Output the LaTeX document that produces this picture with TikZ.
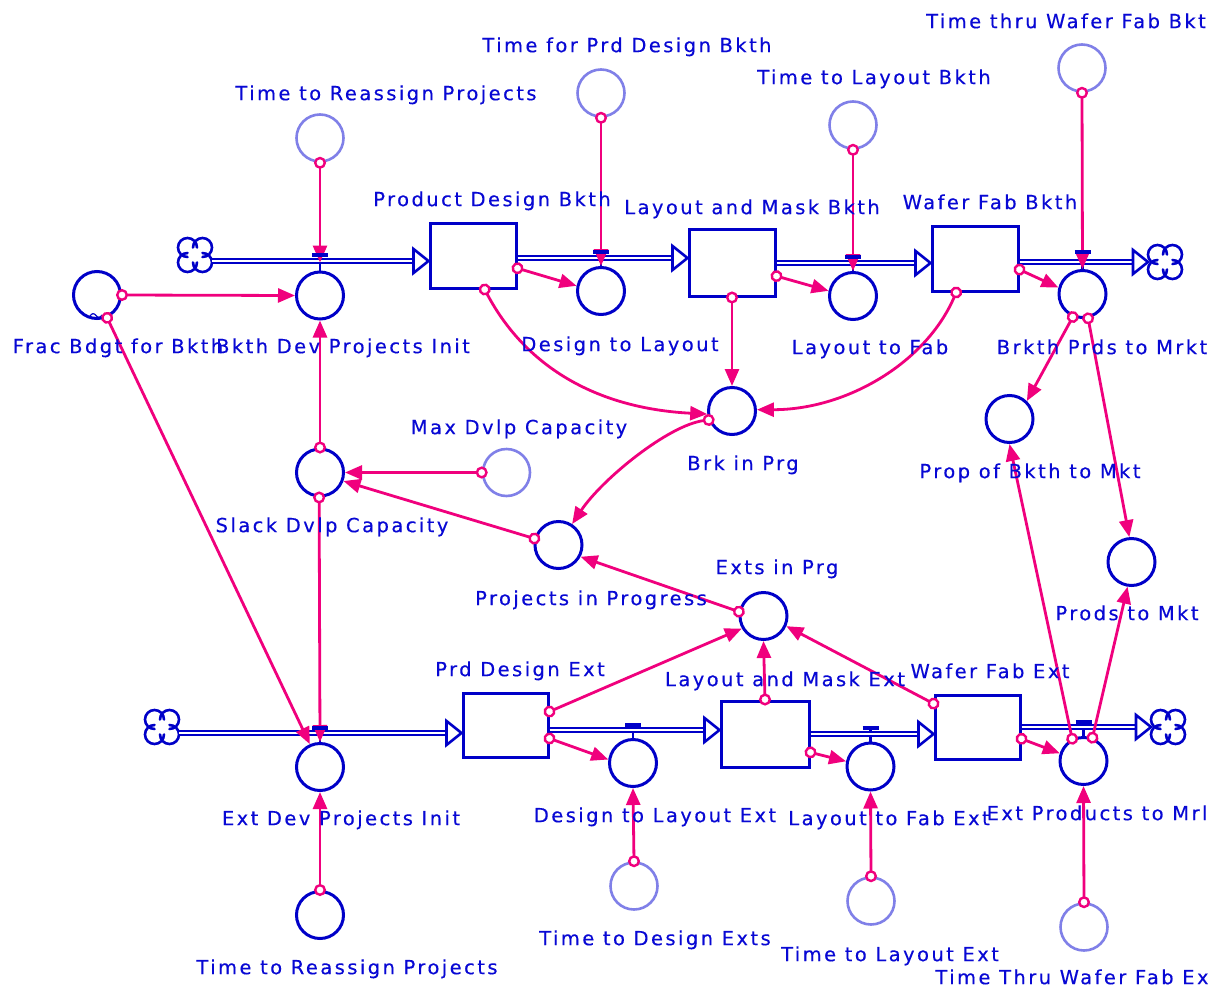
\documentclass[tikz,border=0pt]{standalone}
\usepackage{fontspec}
\newfontfamily\lblfamily[LetterSpace=12.5,FakeBold=0.3]{DejaVu Sans}
\newcommand\lblfont{\lblfamily\fontsize{19.5}{23}\selectfont}
\usetikzlibrary{arrows.meta}
\definecolor{vblue}{RGB}{0,0,200}
\definecolor{vtext}{RGB}{8,8,212}
\definecolor{vpink}{RGB}{240,0,125}
\definecolor{vlight}{RGB}{128,128,232}
\begin{document}
\begin{tikzpicture}[x=1pt,y=-1pt,
 aux/.style={circle,draw=vblue,line width=3pt,minimum size=47pt,inner sep=0pt,fill=white},
 const/.style={aux,draw=vlight,line width=2.6pt},
 stock/.style={rectangle,draw=vblue,line width=3pt,fill=white,inner sep=0pt},
 lbl/.style={text=vtext,font=\lblfont,inner sep=0pt,anchor=base},
 link/.style={draw=vpink,line width=2.8pt,shorten <=-6pt,
   {Circle[fill=white,length=12pt,width=12pt,line width=2.4pt]}-{Triangle[length=17pt,width=14pt]}},
 pipe/.style={draw=vblue,double=white,double distance=2pt,line width=2.2pt,shorten >=14pt},
 pipetip/.style={draw=vblue,fill=white,line width=2.6pt,line join=miter},
 vstem/.style={draw=vblue,line width=2.8pt},
 vbar/.style={draw=vblue,line width=3.4pt},
 vcloud/.pic={
   \begin{scope}[y=1pt]
   \draw[draw=vblue,line width=2.6pt,line cap=round]
     (7.5,7.5) ++(180:9.5pt) arc[start angle=180,end angle=-90,radius=9.5pt]
     (7.5,-7.5) ++(90:9.5pt) arc[start angle=90,end angle=-180,radius=9.5pt]
     (-7.5,-7.5) ++(0:9.5pt) arc[start angle=0,end angle=-270,radius=9.5pt]
     (-7.5,7.5) ++(-90:9.5pt) arc[start angle=-90,end angle=-360,radius=9.5pt];
   \end{scope}
 }]
\path[fill=white] (0,0) rectangle (1221,988);
\useasboundingbox (0,0) rectangle (1221,988);

% stocks
\node[stock,minimum width=86pt,minimum height=65pt] (pdb) at (473,255.5) {};
\node[stock,minimum width=86pt,minimum height=67pt] (lmb) at (732,262.5) {};
\node[stock,minimum width=86pt,minimum height=65pt] (wfb) at (975,258.5) {};
\node[stock,minimum width=85pt,minimum height=64pt] (pde) at (505.5,725) {};
\node[stock,minimum width=88pt,minimum height=66pt] (lme) at (765,734) {};
\node[stock,minimum width=85pt,minimum height=64pt] (wfe) at (977.5,727) {};

% auxiliaries
\node[aux] (bdpi) at (320,295.5) {};
\node[aux] (dtl) at (601,291) {};
\node[aux] (ltf) at (853,296) {};
\node[aux] (bpm) at (1082.5,294) {};
\node[aux] (frac) at (97,295) {};
\node[aux] (slack) at (320,472.5) {};
\node[aux] (ppg) at (558.5,545) {};
\node[aux] (brk) at (732,411) {};
\node[aux] (exts) at (763.5,616) {};
\node[aux] (prop) at (1009.5,419) {};
\node[aux] (pmkt) at (1131.5,562) {};
\node[aux] (edpi) at (320,767) {};
\node[aux] (dtle) at (633,763) {};
\node[aux] (ltfe) at (870.5,766.5) {};
\node[aux] (epm) at (1083.5,761) {};
\node[aux] (trp2) at (320,915) {};

% constants
\node[const] (trp1) at (320,138) {};
\node[const] (tpd) at (601,93) {};
\node[const] (tlb) at (853,125) {};
\node[const] (twb) at (1082,68) {};
\node[const] (mdc) at (506.5,472.5) {};
\node[const] (tde) at (634,886) {};
\node[const] (tle) at (871,901) {};
\node[const] (twe) at (1084,927) {};

% clouds
\coordinate (c1) at (195,261);
\coordinate (c2) at (1165,262);
\coordinate (c3) at (162,733);
\coordinate (c4) at (1168,727);
\pic at ([yshift=6pt]c1) {vcloud};
\pic at (c2) {vcloud};
\pic at ([yshift=6pt]c3) {vcloud};
\pic at (c4) {vcloud};

% valve stems
\draw[vstem] (bdpi.north) -- (bdpi.north |- 0,255);
\draw[vstem] (dtl.north) -- (dtl.north |- 0,252);
\draw[vstem] (ltf.north) -- (ltf.north |- 0,257);
\draw[vstem] (bpm.north) -- (bpm.north |- 0,252);
\draw[vstem] (edpi.north) -- (edpi.north |- 0,728);
\draw[vstem] (dtle.north) -- (dtle.north |- 0,725);
\draw[vstem] (ltfe.north) -- (ltfe.north |- 0,728);
\draw[vstem] (epm.north) -- (epm.north |- 0,722);

% pipes (top)
\draw[pipe] ([xshift=17pt]c1) -- (pdb.west |- c1);
\draw[pipetip] (pdb.west |- c1) -- ++(-15,-12) -- ++(0,24) -- cycle;
\draw[pipe] (pdb.east |- 0,258) -- (lmb.west |- 0,258);
\draw[pipetip] (lmb.west |- 0,258) -- ++(-15,-12) -- ++(0,24) -- cycle;
\draw[pipe] (lmb.east |- 0,263) -- (wfb.west |- 0,263);
\draw[pipetip] (wfb.west |- 0,263) -- ++(-15,-12) -- ++(0,24) -- cycle;
\draw[pipe] (wfb.east |- c2) -- ([xshift=-17pt]c2);
\draw[pipetip] ([xshift=-17pt]c2) -- ++(-15,-12) -- ++(0,24) -- cycle;
% pipes (bottom)
\draw[pipe] ([xshift=17pt]c3) -- (pde.west |- c3);
\draw[pipetip] (pde.west |- c3) -- ++(-15,-12) -- ++(0,24) -- cycle;
\draw[pipe] (pde.east |- 0,730) -- (lme.west |- 0,730);
\draw[pipetip] (lme.west |- 0,730) -- ++(-15,-12) -- ++(0,24) -- cycle;
\draw[pipe] (lme.east |- 0,734) -- (wfe.west |- 0,734);
\draw[pipetip] (wfe.west |- 0,734) -- ++(-15,-12) -- ++(0,24) -- cycle;
\draw[pipe] (wfe.east |- c4) -- ([xshift=-17pt]c4);
\draw[pipetip] ([xshift=-17pt]c4) -- ++(-15,-12) -- ++(0,24) -- cycle;

% small tilde on Frac
\draw[vblue,line width=1.2pt] (90,316) .. controls (92,313) and (94,313) .. (96,315.5) .. controls (98,318) and (100,318) .. (102,315);

% connectors
\draw[link] (trp1.south) -- ([yshift=8pt]bdpi.north);
\draw[link] (tpd.south) -- (dtl.north);
\draw[link] (tlb.south) -- (ltf.north);
\draw[link] (twb.south) -- (bpm.north);
\draw[link] (frac.east) -- (bdpi.west);
\draw[link] (frac.-66) -- (edpi.114);
\draw[link] (slack.north) -- (bdpi.south);
\draw[link] (slack.-92) -- (edpi.north);
\draw[link] (mdc.west) -- (slack.east);
\draw[link] (ppg.165) -- (slack.-20);
\draw[link] (pdb.-16) -- (dtl.168);
\draw[link] (lmb.-17) -- (ltf.168);
\draw[link] (wfb.-14) -- (bpm.165);
\draw[link] (pdb.-71) .. controls +(45,85) and +(-100,-5) .. (brk.187);
\draw[link] (lmb.south) -- (brk.north);
\draw[link] (wfb.-119) .. controls +(-30,70) and +(90,0) .. (brk.3);
\draw[link] (brk.201) .. controls +(-40,5) and +(30,-45) .. (ppg.57);
\draw[link] (exts.170) -- (ppg.-28);
\draw[link] (pde.17) -- (exts.210);
\draw[link] (lme.north) -- (exts.south);
\draw[link] (wfe.152) -- (exts.-24);
\draw[link] (pde.-17) -- (dtle.172);
\draw[link] (lme.-22) -- (ltfe.168);
\draw[link] (wfe.-15) -- (epm.162);
\draw[link] (bpm.-113) -- (prop.46);
\draw[link] (bpm.-77) -- (pmkt.95);
\draw[link] (epm.117) -- (prop.south);
\draw[link] (epm.69) -- (pmkt.-99);
\draw[link] (trp2.north) -- (edpi.south);
\draw[link] (tde.north) -- (dtle.south);
\draw[link] (tle.north) -- (ltfe.south);
\draw[link] (twe.north) -- (epm.south);

% valve bars
\draw[vbar] (bdpi.north |- 0,255) ++(-8,0) -- ++(16,0);
\draw[vbar] (dtl.north |- 0,252) ++(-8,0) -- ++(16,0);
\draw[vbar] (ltf.north |- 0,257) ++(-8,0) -- ++(16,0);
\draw[vbar] (bpm.north |- 0,252) ++(-8,0) -- ++(16,0);
\draw[vbar] (edpi.north |- 0,728) ++(-8,0) -- ++(16,0);
\draw[vbar] (dtle.north |- 0,725) ++(-8,0) -- ++(16,0);
\draw[vbar] (ltfe.north |- 0,728) ++(-8,0) -- ++(16,0);
\draw[vbar] (epm.north |- 0,722) ++(-8,0) -- ++(16,0);

% labels
\node[lbl] (ltwb) at (1066,28.2) {Time thru Wafer Fab Bkt};
\node[lbl] (ltpd) at (627,52.2) {Time for Prd Design Bkth};
\node[lbl] (ltlb) at (874,84.2) {Time to Layout Bkth};
\node[lbl] (ltrp1) at (386,100.2) {Time to Reassign Projects};
\node[lbl] (lpdb) at (492,206.2) {Product Design Bkth};
\node[lbl] (llmb) at (752,214.2) {Layout and Mask Bkth};
\node[lbl] (lwfb) at (990,209.2) {Wafer Fab Bkth};
\node[lbl] (lfrac) at (118,353.2) {Frac Bdgt for Bkth};
\node[lbl] (lbdpi) at (343,353.2) {Bkth Dev Projects Init};
\node[lbl] (ldtl) at (620,351.2) {Design to Layout};
\node[lbl] (lltf) at (870,354.2) {Layout to Fab};
\node[lbl] (lbpm) at (1102,354.2) {Brkth Prds to Mrkt};
\node[lbl] (lmdc) at (519,434.2) {Max Dvlp Capacity};
\node[lbl] (lbrk) at (743,470.2) {Brk in Prg};
\node[lbl] (lprop) at (1030,478.2) {Prop of Bkth to Mkt};
\node[lbl] (lslack) at (332,532.2) {Slack Dvlp Capacity};
\node[lbl] (lexts) at (777,574.2) {Exts in Prg};
\node[lbl] (lppg) at (591,605.2) {Projects in Progress};
\node[lbl] (lpmkt) at (1127,620.2) {Prods to Mkt};
\node[lbl] (lpde) at (520,676.2) {Prd Design Ext};
\node[lbl] (llme) at (785,686.2) {Layout and Mask Ext};
\node[lbl] (lwfe) at (990,678.2) {Wafer Fab Ext};
\node[lbl] (ledpi) at (341,825.2) {Ext Dev Projects Init};
\node[lbl] (ldtle) at (655,822.2) {Design to Layout Ext};
\node[lbl] (lltfe) at (889,825.2) {Layout to Fab Ext};
\node[lbl] (lepm) at (1097,820.2) {Ext Products to Mrl};
\node[lbl] (ltde) at (655,945.2) {Time to Design Exts};
\node[lbl] (ltle) at (890,961.2) {Time to Layout Ext};
\node[lbl] (ltrp2) at (347,974.2) {Time to Reassign Projects};
\node[lbl] (ltwe) at (1072,984.2) {Time Thru Wafer Fab Ex};
\end{tikzpicture}
\end{document}
